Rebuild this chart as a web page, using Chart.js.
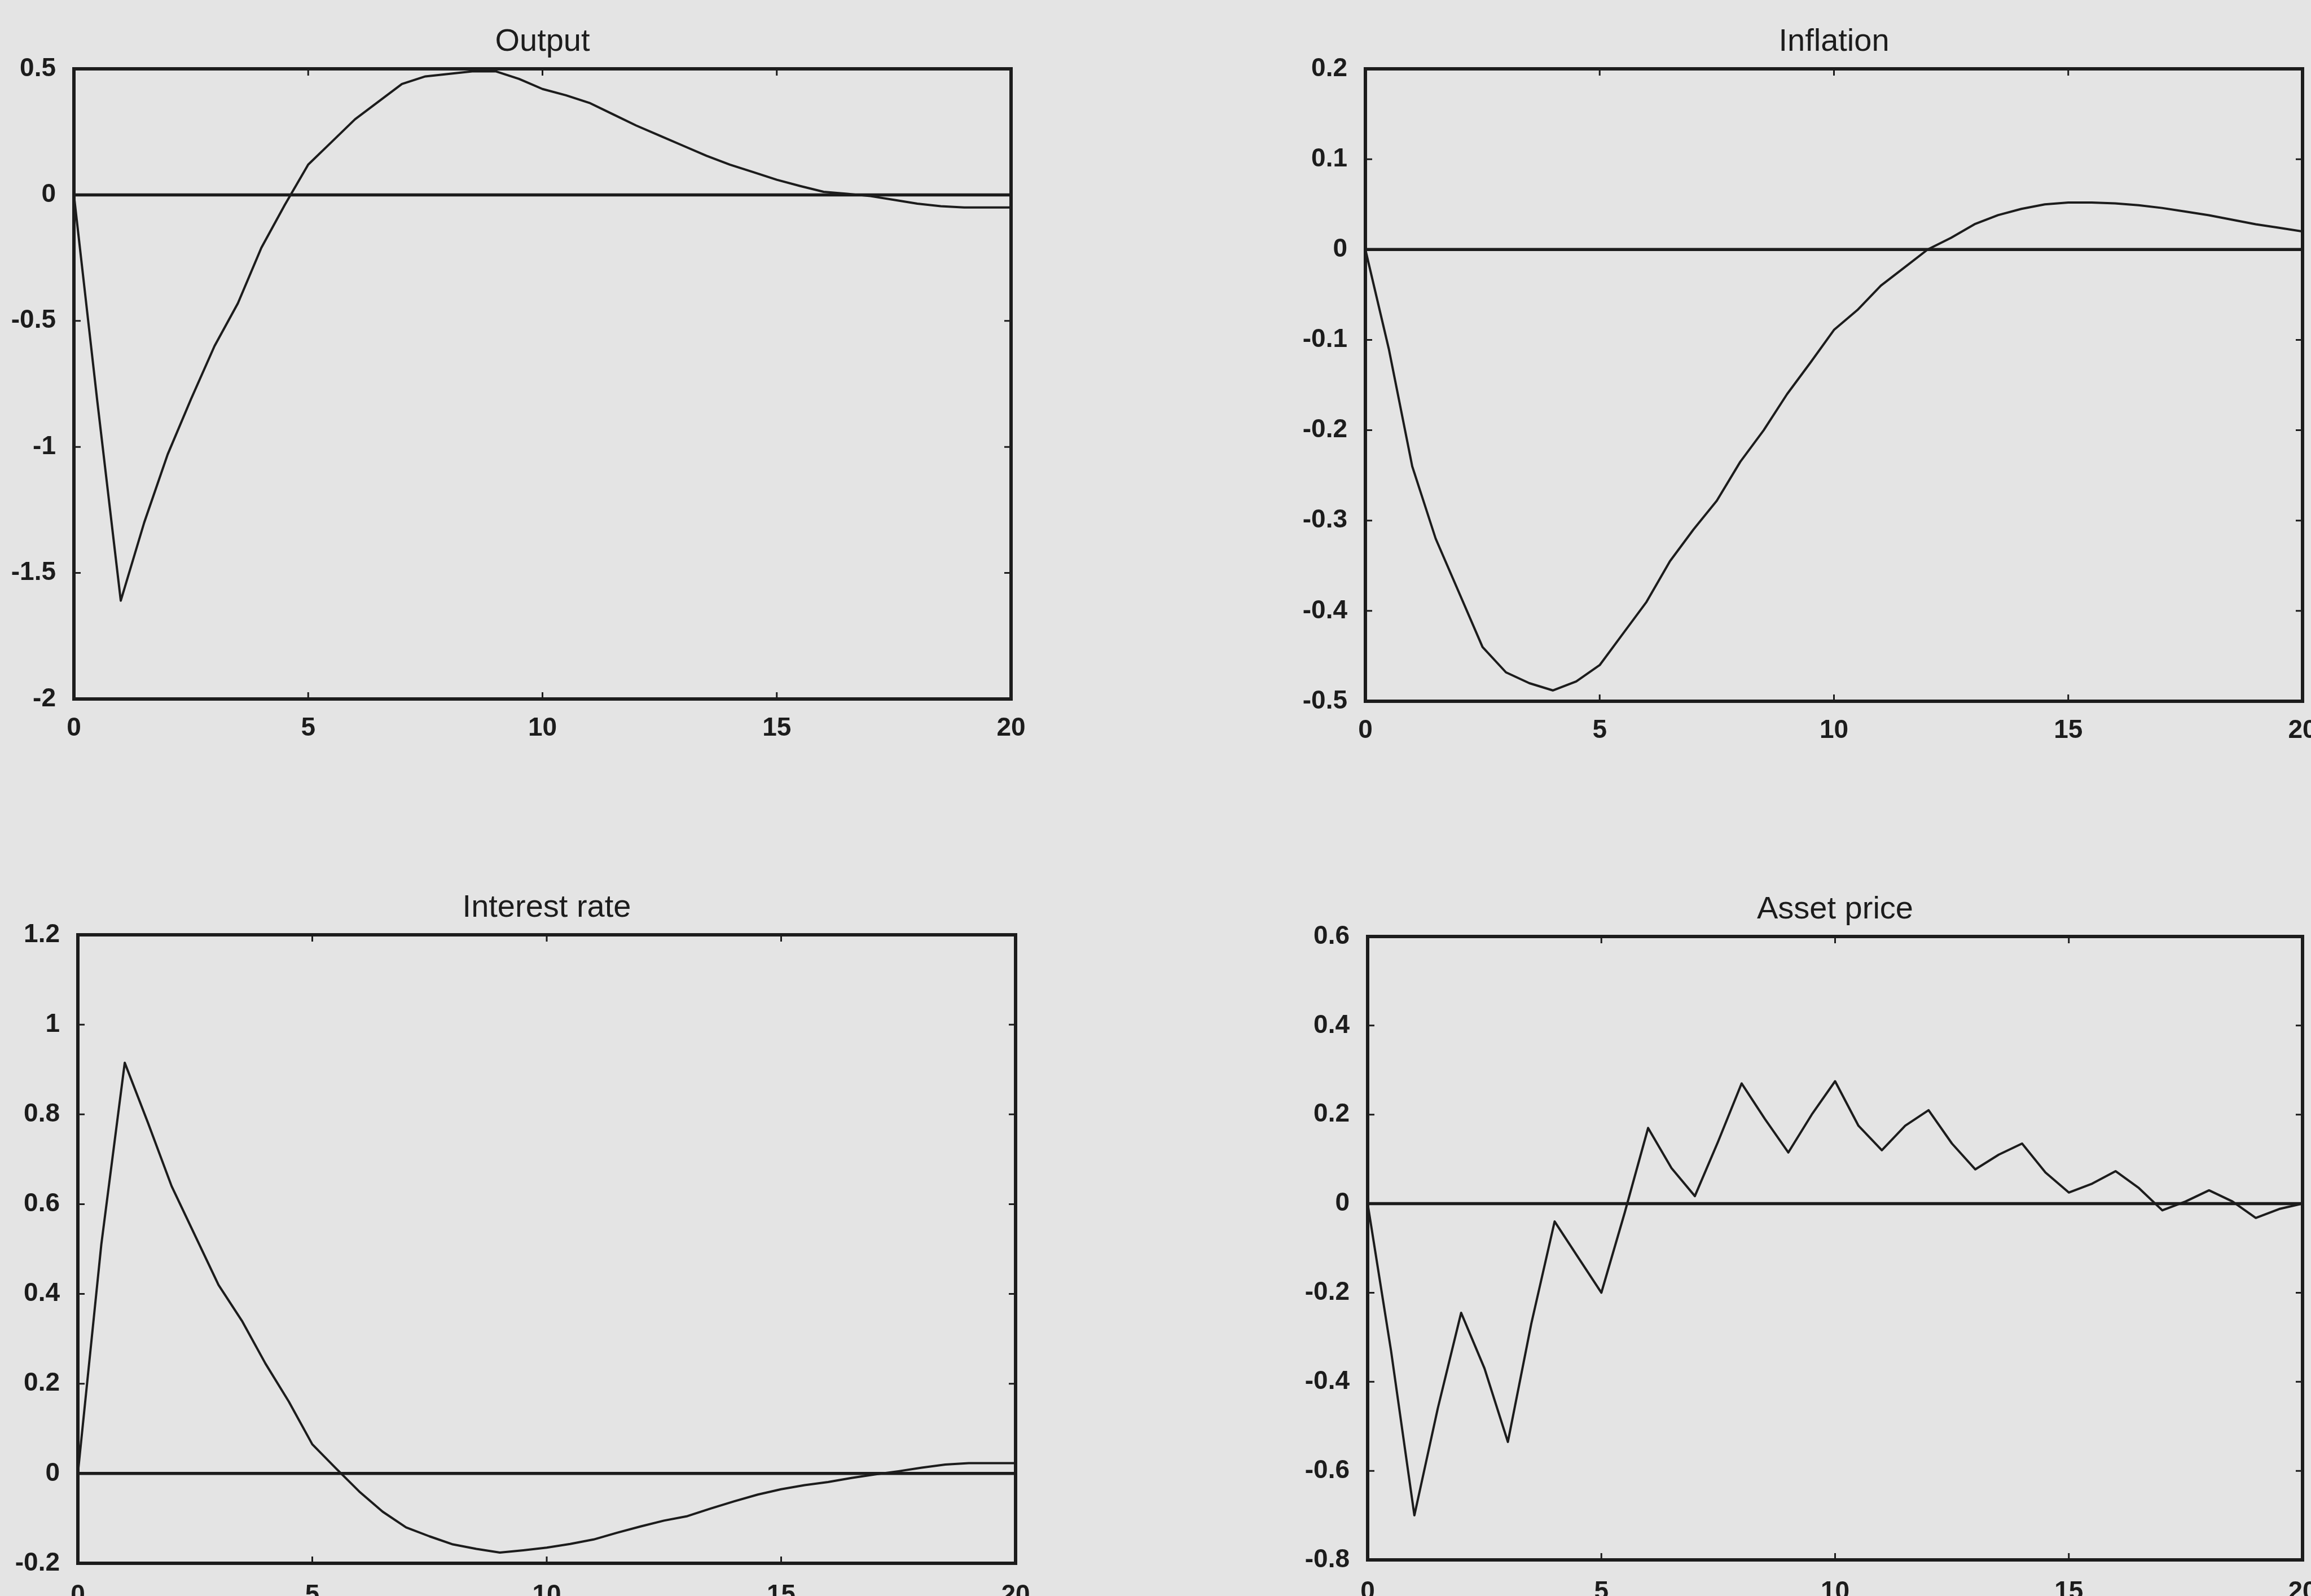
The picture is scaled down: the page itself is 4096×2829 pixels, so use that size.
<!DOCTYPE html>
<html>
<head>
<meta charset="utf-8">
<title>Impulse responses</title>
<script src="https://cdn.jsdelivr.net/npm/chart.js@4.4.1/dist/chart.umd.min.js"></script>
<style>
  html, body { margin: 0; padding: 0; }
  body {
    width: 4096px; height: 2829px; overflow: hidden;
    background: #e4e4e4; position: relative;
  }
  canvas { position: absolute; }
</style>
</head>
<body>
<canvas id="cOutput"></canvas>
<canvas id="cInflation"></canvas>
<canvas id="cInterest"></canvas>
<canvas id="cAsset"></canvas>
<script>
// Horizon (quarters after the shock)
const periods = [0,0.5,1,1.5,2,2.5,3,3.5,4,4.5,5,5.5,6,6.5,7,7.5,8,8.5,9,9.5,10,
                 10.5,11,11.5,12,12.5,13,13.5,14,14.5,15,15.5,16,16.5,17,17.5,18,18.5,19,19.5,20];

// Responses
const output = [0,-0.82,-1.61,-1.30,-1.03,-0.81,-0.60,-0.43,-0.21,-0.04,0.12,0.21,0.30,0.37,0.44,0.47,0.48,0.49,0.49,0.46,0.42,
                0.395,0.365,0.32,0.275,0.235,0.195,0.155,0.12,0.09,0.06,0.035,0.012,0.004,-0.005,-0.02,-0.035,-0.045,-0.05,-0.05,-0.05];
const inflation = [0,-0.11,-0.24,-0.32,-0.38,-0.44,-0.468,-0.48,-0.488,-0.478,-0.46,-0.425,-0.39,-0.345,-0.31,-0.278,-0.235,-0.2,-0.16,-0.125,-0.089,
                   -0.067,-0.04,-0.02,0,0.013,0.028,0.038,0.045,0.05,0.052,0.052,0.051,0.049,0.046,0.042,0.038,0.033,0.028,0.024,0.02];
const interestRate = [0,0.51,0.915,0.78,0.64,0.53,0.42,0.34,0.245,0.16,0.065,0.012,-0.04,-0.085,-0.12,-0.14,-0.158,-0.168,-0.176,-0.171,-0.165,
                      -0.157,-0.147,-0.132,-0.118,-0.105,-0.095,-0.078,-0.062,-0.047,-0.035,-0.026,-0.019,-0.01,-0.002,0.005,0.013,0.02,0.023,0.023,0.023];
const assetPrice = [0,-0.33,-0.70,-0.46,-0.245,-0.37,-0.535,-0.27,-0.04,-0.12,-0.2,-0.02,0.17,0.08,0.017,0.14,0.27,0.19,0.115,0.2,0.275,
                    0.175,0.12,0.175,0.21,0.135,0.077,0.11,0.135,0.07,0.025,0.045,0.073,0.035,-0.015,0.005,0.03,0.005,-0.032,-0.012,0];

// Axis ticks
const xTicks = [0, 5, 10, 15, 20];
const xTickLabels = ['0', '5', '10', '15', '20'];
const outputTicks = [-2, -1.5, -1, -0.5, 0, 0.5];
const outputTickLabels = ['-2', '-1.5', '-1', '-0.5', '0', '0.5'];
const inflationTicks = [-0.5, -0.4, -0.3, -0.2, -0.1, 0, 0.1, 0.2];
const inflationTickLabels = ['-0.5', '-0.4', '-0.3', '-0.2', '-0.1', '0', '0.1', '0.2'];
const interestTicks = [-0.2, 0, 0.2, 0.4, 0.6, 0.8, 1, 1.2];
const interestTickLabels = ['-0.2', '0', '0.2', '0.4', '0.6', '0.8', '1', '1.2'];
const assetTicks = [-0.8, -0.6, -0.4, -0.2, 0, 0.2, 0.4, 0.6];
const assetTickLabels = ['-0.8', '-0.6', '-0.4', '-0.2', '0', '0.2', '0.4', '0.6'];

// Styling
const INK = '#1c1c1c';
const FONT = 'Liberation Sans, Arial, Helvetica, sans-serif';
const AXIS_W = 130;     // width reserved for the y tick labels (and mirrored on the right)
const TITLE_H = 80;     // title box height
const XAXIS_H = 100;    // x tick label box height

// Panels: plot-area placement on the page
const panels = [
  { id: 'cOutput',    title: 'Output',        values: output,       yMin: -2,   yMax: 0.5, ticks: outputTicks,    labels: outputTickLabels,    left: 131,  right: 1792, top: 122,  bottom: 1239, xPad: 17 },
  { id: 'cInflation', title: 'Inflation',     values: inflation,    yMin: -0.5, yMax: 0.2, ticks: inflationTicks, labels: inflationTickLabels, left: 2420, right: 4081, top: 122,  bottom: 1243, xPad: 17 },
  { id: 'cInterest',  title: 'Interest rate', values: interestRate, yMin: -0.2, yMax: 1.2, ticks: interestTicks,  labels: interestTickLabels,  left: 138,  right: 1800, top: 1657, bottom: 2771, xPad: 22 },
  { id: 'cAsset',     title: 'Asset price',   values: assetPrice,   yMin: -0.8, yMax: 0.6, ticks: assetTicks,     labels: assetTickLabels,     left: 2424, right: 4081, top: 1660, bottom: 2765, xPad: 22 }
];

// Box frame with inward tick marks on all four sides
const frameTicks = {
  id: 'frameTicks',
  afterDatasetsDraw(chart) {
    const { ctx, chartArea: a, scales: { x, y } } = chart;
    ctx.save();
    ctx.strokeStyle = INK;
    ctx.lineWidth = 3;
    ctx.beginPath();
    const len = 12;
    x.ticks.forEach(t => {
      const px = x.getPixelForValue(t.value);
      ctx.moveTo(px, a.bottom); ctx.lineTo(px, a.bottom - len);
      ctx.moveTo(px, a.top);    ctx.lineTo(px, a.top + len);
    });
    y.ticks.forEach(t => {
      const py = y.getPixelForValue(t.value);
      ctx.moveTo(a.left, py);  ctx.lineTo(a.left + len, py);
      ctx.moveTo(a.right, py); ctx.lineTo(a.right - len, py);
    });
    ctx.stroke();
    ctx.lineWidth = 6;
    ctx.lineJoin = 'miter';
    ctx.strokeRect(a.left, a.top, a.right - a.left, a.bottom - a.top);
    ctx.restore();
  }
};

panels.forEach(p => {
  const canvas = document.getElementById(p.id);
  const plotW = p.right - p.left;
  const plotH = p.bottom - p.top;
  canvas.width = AXIS_W * 2 + plotW;
  canvas.height = TITLE_H + plotH + XAXIS_H;
  canvas.style.left = (p.left - AXIS_W) + 'px';
  canvas.style.top = (p.top - TITLE_H) + 'px';

  const series = periods.map((t, i) => ({ x: t, y: p.values[i] }));
  const zero = [{ x: periods[0], y: 0 }, { x: periods[periods.length - 1], y: 0 }];

  new Chart(canvas, {
    type: 'line',
    data: {
      datasets: [
        { data: zero, borderColor: INK, borderWidth: 5.5, pointRadius: 0, fill: false, tension: 0 },
        { data: series, borderColor: INK, borderWidth: 4, pointRadius: 0, fill: false, tension: 0,
          borderJoinStyle: 'round', borderCapStyle: 'round' }
      ]
    },
    options: {
      responsive: false,
      animation: false,
      devicePixelRatio: 1,
      events: [],
      layout: { padding: 0, autoPadding: false },
      plugins: {
        legend: { display: false },
        tooltip: { enabled: false },
        title: {
          display: true, text: p.title, color: INK,
          font: { family: FONT, size: 56, weight: 'normal', lineHeight: 1 },
          padding: { top: 5, bottom: 19 }
        }
      },
      scales: {
        x: {
          type: 'linear', position: 'bottom', min: 0, max: 20,
          grid: { display: false }, border: { display: false },
          afterBuildTicks: s => { s.ticks = xTicks.map(v => ({ value: v })); },
          afterFit: s => { s.height = XAXIS_H; },
          ticks: {
            autoSkip: false, maxRotation: 0, minRotation: 0, padding: p.xPad, color: INK,
            font: { family: FONT, size: 46, weight: 'bold', lineHeight: 1.2 },
            callback: (v, i) => xTickLabels[i]
          }
        },
        y: {
          type: 'linear', position: 'left', min: p.yMin, max: p.yMax,
          grid: { display: false }, border: { display: false },
          afterBuildTicks: s => { s.ticks = p.ticks.map(v => ({ value: v })); },
          afterFit: s => { s.width = AXIS_W; },
          ticks: {
            autoSkip: false, padding: 24, color: INK,
            font: { family: FONT, size: 46, weight: 'bold', lineHeight: 1.2 },
            callback: (v, i) => p.labels[i]
          }
        },
        yMirror: {
          type: 'linear', position: 'right', display: true,
          grid: { display: false }, border: { display: false },
          ticks: { display: false },
          afterFit: s => { s.width = AXIS_W; }
        }
      }
    },
    plugins: [frameTicks]
  });
});
</script>
</body>
</html>
